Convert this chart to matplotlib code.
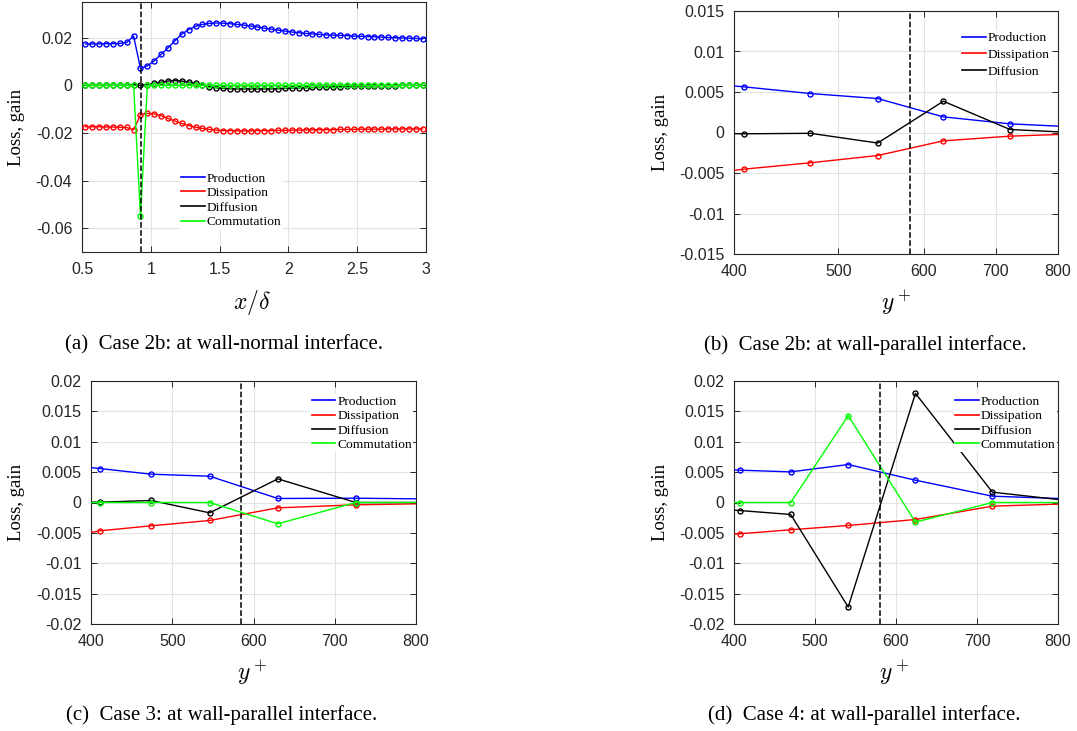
import matplotlib
matplotlib.use('Agg')
import matplotlib.pyplot as plt
from matplotlib.ticker import FuncFormatter, NullLocator
from matplotlib.lines import Line2D

plt.rcParams['mathtext.fontset'] = 'cm'
plt.rcParams['axes.unicode_minus'] = False

# ---- (a) Case 2b, wall-normal interface ---------------------------------
x_a = [0.525, 0.575, 0.625, 0.675, 0.725, 0.775, 0.825, 0.875, 0.925, 0.975,
       1.025, 1.075, 1.125, 1.175, 1.225, 1.275, 1.325, 1.375, 1.425, 1.475,
       1.525, 1.575, 1.625, 1.675, 1.725, 1.775, 1.825, 1.875, 1.925, 1.975,
       2.025, 2.075, 2.125, 2.175, 2.225, 2.275, 2.325, 2.375, 2.425, 2.475,
       2.525, 2.575, 2.625, 2.675, 2.725, 2.775, 2.825, 2.875, 2.925, 2.975]
prod_a = [0.0174, 0.0174, 0.0174, 0.0175, 0.0175, 0.0176, 0.0180, 0.0207, 0.0071, 0.0082,
          0.0103, 0.0130, 0.0157, 0.0187, 0.0215, 0.0234, 0.0248, 0.0256, 0.0260, 0.0262,
          0.0261, 0.0259, 0.0256, 0.0253, 0.0249, 0.0245, 0.0240, 0.0236, 0.0232, 0.0228,
          0.0224, 0.0221, 0.0218, 0.0216, 0.0214, 0.0212, 0.0211, 0.0210, 0.0209, 0.0207,
          0.0206, 0.0205, 0.0204, 0.0203, 0.0201, 0.0200, 0.0199, 0.0198, 0.0197, 0.0195]
diss_a = [-0.0174, -0.0174, -0.0174, -0.0175, -0.0175, -0.0176, -0.0177, -0.0187, -0.0124, -0.0118,
          -0.0120, -0.0128, -0.0139, -0.0150, -0.0160, -0.0169, -0.0176, -0.0181, -0.0185, -0.0188,
          -0.0190, -0.0190, -0.0191, -0.0191, -0.0191, -0.0190, -0.0190, -0.0190, -0.0189, -0.0189,
          -0.0188, -0.0188, -0.0187, -0.0187, -0.0186, -0.0186, -0.0186, -0.0185, -0.0185, -0.0185,
          -0.0184, -0.0184, -0.0184, -0.0184, -0.0183, -0.0183, -0.0183, -0.0183, -0.0183, -0.0183]
diff_a = [0.0, 0.0, 0.0, 0.0, 0.0, 0.0, 0.0, 0.0003, 0.0, 0.0003,
          0.0008, 0.0013, 0.0018, 0.0020, 0.0018, 0.0014, 0.0008, 0.0002, -0.0005, -0.0010,
          -0.0013, -0.0014, -0.0015, -0.0015, -0.0015, -0.0015, -0.0015, -0.0015, -0.0014, -0.0013,
          -0.0012, -0.0011, -0.0010, -0.0009, -0.0008, -0.0007, -0.0006, -0.0005, -0.0004, -0.0003,
          -0.0003, -0.0002, -0.0002, -0.0001, -0.0001, -0.0001, 0.0, 0.0, 0.0, 0.0]
comm_a = [0.0, 0.0, 0.0, 0.0, 0.0, 0.0, 0.0, 0.0, -0.0550, 0.0,
          0.0, 0.0, 0.0, 0.0, 0.0, 0.0, 0.0, 0.0, 0.0, 0.0,
          0.0, 0.0, 0.0, 0.0, 0.0, 0.0, 0.0, 0.0, 0.0, 0.0,
          0.0, 0.0, 0.0, 0.0, 0.0, 0.0, 0.0, 0.0, 0.0, 0.0,
          0.0, 0.0, 0.0, 0.0, 0.0, 0.0, 0.0, 0.0, 0.0, 0.0]
iface_a = 0.93

# ---- (b) Case 2b, wall-parallel interface (log y+) ----------------------
y_b = [355, 409, 471, 544, 626, 722, 833]
prod_b = [0.0064, 0.00563, 0.00481, 0.00419, 0.00193, 0.00107, 0.00067]
diss_b = [-0.0055, -0.00452, -0.00374, -0.00284, -0.00103, -0.00045, -0.00017]
diff_b = [-0.0001, -0.00016, -0.0001, -0.0013, 0.00386, 0.00037, -0.00003]
iface_b = 583

# ---- (c) Case 3 ---------------------------------------------------------
y_c = [356, 411, 474, 546, 630, 726, 837]
prod_c = [0.0064, 0.00559, 0.00466, 0.00433, 0.00066, 0.00071, 0.00055]
diss_c = [-0.0060, -0.00466, -0.00384, -0.00296, -0.00088, -0.00038, -0.00014]
diff_c = [0.0001, 0.00005, 0.00033, -0.0017, 0.00389, 0.0, 0.0]
comm_c = [0.0, 0.0, 0.0, 0.0, -0.0035, 0.0, 0.0]
iface_c = 585

# ---- (d) Case 4 ---------------------------------------------------------
y_d = [353, 407, 470, 541, 624, 719, 828]
prod_d = [0.0057, 0.00532, 0.00504, 0.00625, 0.00367, 0.00104, 0.00053]
diss_d = [-0.0056, -0.00515, -0.00449, -0.00378, -0.0028, -0.0006, -0.00016]
diff_d = [-0.0009, -0.00132, -0.00197, -0.0172, 0.01797, 0.0017, 0.00008]
comm_d = [0.0, 0.0, 0.0, 0.0143, -0.00323, 0.0, 0.0]
iface_d = 580

labels = ['Production', 'Dissipation', 'Diffusion', 'Commutation']
colors = ['#0000ff', '#ff0000', '#000000', '#00ff00']
captions = ['(a)  Case 2b: at wall-normal interface.',
            '(b)  Case 2b: at wall-parallel interface.',
            '(c)  Case 3: at wall-parallel interface.',
            '(d)  Case 4: at wall-parallel interface.']

W, H = 1077, 731
fig = plt.figure(figsize=(W / 100, H / 100), dpi=100)

def px_axes(l, t, r, b):
    return fig.add_axes([l / W, 1 - b / H, (r - l) / W, (b - t) / H])

fmt = FuncFormatter(lambda v, p: f'{v:g}')
dark = '#262626'

def style(ax, xt, yt, xlim, ylim):
    ax.set_xlim(*xlim); ax.set_ylim(*ylim)
    ax.set_xticks(xt); ax.set_yticks(yt)
    ax.xaxis.set_minor_locator(NullLocator())
    ax.xaxis.set_major_formatter(fmt); ax.yaxis.set_major_formatter(fmt)
    ax.tick_params(direction='in', top=True, right=True, length=4, width=0.7,
                   colors=dark, labelsize=11.5, pad=7)
    for lab in ax.get_xticklabels() + ax.get_yticklabels():
        lab.set_fontfamily('Liberation Sans')
    for s in ax.spines.values():
        s.set_color(dark); s.set_linewidth(0.8)
    ax.grid(True, color='#e3e3e3', lw=0.8)
    ax.set_axisbelow(True)

def draw(ax, x, series):
    for i, yv in enumerate(series):
        ax.plot(x, yv, '-o', color=colors[i], lw=1.0, ms=3.6, mew=1.0,
                mfc='none', label=labels[i], zorder=3 + i * 0.1)

def legend(ax, n, anchor, spacing):
    hh = [Line2D([], [], color=c, lw=1.2) for c in colors[:n]]
    leg = ax.legend(hh, labels[:n], loc='upper left', bbox_to_anchor=anchor,
                    frameon=True, fancybox=False, framealpha=1, edgecolor='none',
                    borderpad=0.1, borderaxespad=0, handlelength=1.75,
                    handletextpad=0.15, labelspacing=spacing,
                    prop={'family': 'Liberation Serif', 'size': 9.7})
    leg.set_zorder(10)

def labels_ax(ax, xl, xpos, ylpos, xlsize):
    ax.text(xpos[0], xpos[1], xl, transform=ax.transAxes, ha='center',
            va='center', fontsize=xlsize)
    ax.text(ylpos, 0.5, 'Loss, gain', transform=ax.transAxes, rotation=90,
            ha='center', va='center', fontsize=13.5, family='Liberation Serif')

# (a)
ax = px_axes(82, 2, 426, 252)
style(ax, [0.5, 1, 1.5, 2, 2.5, 3], [-0.06, -0.04, -0.02, 0, 0.02], (0.5, 3), (-0.07, 0.035))
draw(ax, x_a, [prod_a, diss_a, diff_a, comm_a])
ax.axvline(iface_a, color='k', ls='--', lw=1.1, zorder=5)
legend(ax, 4, (0.285, 0.325), 0.16)
labels_ax(ax, r'$x/\delta$', (0.494, -0.2), -0.189, 17)

# (b)
ax = px_axes(734, 11, 1058, 254)
ax.set_xscale('log')
style(ax, [400, 500, 600, 700, 800], [-0.015, -0.01, -0.005, 0, 0.005, 0.01, 0.015],
      (400, 800), (-0.015, 0.015))
draw(ax, y_b, [prod_b, diss_b, diff_b])
ax.axvline(iface_b, color='k', ls='--', lw=1.1, zorder=5)
legend(ax, 3, (0.70, 0.92), 0.33)
labels_ax(ax, r'$y^+$', (0.5, -0.2), -0.228, 17)

# (c)
ax = px_axes(91, 381, 416, 624)
style(ax, [400, 500, 600, 700, 800], [-0.02, -0.015, -0.01, -0.005, 0, 0.005, 0.01, 0.015, 0.02],
      (400, 800), (-0.02, 0.02))
draw(ax, y_c, [prod_c, diss_c, diff_c, comm_c])
ax.axvline(iface_c, color='k', ls='--', lw=1.1, zorder=5)
legend(ax, 4, (0.675, 0.945), 0.14)
labels_ax(ax, r'$y^+$', (0.495, -0.2), -0.228, 17)

# (d)
ax = px_axes(734, 381, 1058, 624)
style(ax, [400, 500, 600, 700, 800], [-0.02, -0.015, -0.01, -0.005, 0, 0.005, 0.01, 0.015, 0.02],
      (400, 800), (-0.02, 0.02))
draw(ax, y_d, [prod_d, diss_d, diff_d, comm_d])
ax.axvline(iface_d, color='k', ls='--', lw=1.1, zorder=5)
legend(ax, 4, (0.678, 0.945), 0.14)
labels_ax(ax, r'$y^+$', (0.495, -0.2), -0.228, 17)

# captions
for (cx, cy), txt in zip([(224, 345), (865, 345), (222, 715), (864, 715)], captions):
    fig.text(cx / W, 1 - cy / H, txt, ha='center', va='center',
             fontsize=15, family='Liberation Serif')

fig.savefig('out.png', dpi=100)
